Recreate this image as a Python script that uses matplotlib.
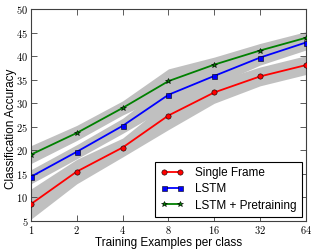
import matplotlib

matplotlib.use("Agg")
import matplotlib.pyplot as plt
import numpy as np
from matplotlib.ticker import FixedLocator, FuncFormatter

plt.rcParams["mathtext.fontset"] = "cm"
plt.rcParams["font.family"] = ["Liberation Sans", "DejaVu Sans"]

examples = [1, 2, 4, 8, 16, 32, 64]
x_ticks = [1, 2, 4, 8, 16, 32, 64]
y_ticks = [5, 10, 15, 20, 25, 30, 35, 40, 45, 50]

single_frame = [8.6, 15.5, 20.6, 27.4, 32.3, 35.7, 38.1]
single_std = [3.2, 2.6, 2.0, 3.0, 2.3, 2.0, 2.0]
lstm = [14.4, 19.7, 25.2, 31.8, 35.8, 39.7, 42.9]
lstm_std = [1.5, 1.5, 1.6, 2.5, 2.0, 1.6, 1.6]
lstm_pre = [19.1, 23.7, 29.0, 34.7, 38.2, 41.2, 43.9]
lstm_pre_std = [1.9, 1.6, 1.5, 2.6, 1.6, 1.5, 1.3]

series = [
    ("Single Frame", single_frame, single_std, "r", "o", 3.8),
    ("LSTM", lstm, lstm_std, "b", "s", 3.6),
    ("LSTM + Pretraining", lstm_pre, lstm_pre_std, "g", "*", 4.2),
]

fig = plt.figure(figsize=(3.16, 2.52), dpi=100)
ax = fig.add_axes([0.098, 0.123, 0.870, 0.841])
ax.set_xscale("log", base=2)

for label, mean, std, color, marker, ms in series:
    m = np.array(mean)
    s = np.array(std)
    ax.fill_between(examples, m - s, m + s, color="#c0c0c0", linewidth=0, zorder=1)

for label, mean, std, color, marker, ms in series:
    ax.plot(examples, mean, color=color, marker=marker, markersize=ms,
            markeredgecolor="k", markeredgewidth=0.4, linewidth=1.3,
            label=label, zorder=3)

ax.set_xlim(1, 64)
ax.set_ylim(5, 50)
ax.xaxis.set_major_locator(FixedLocator(x_ticks))
ax.xaxis.set_minor_locator(FixedLocator([]))
ax.yaxis.set_major_locator(FixedLocator(y_ticks))
ax.xaxis.set_major_formatter(FuncFormatter(lambda v, p: "$%d$" % v))
ax.yaxis.set_major_formatter(FuncFormatter(lambda v, p: "$%d$" % v))
ax.tick_params(direction="in", top=True, right=True, labelsize=7.5,
               length=4, width=0.6, pad=2, colors="#404040", labelcolor="k")
for sp in ax.spines.values():
    sp.set_color("#404040")
    sp.set_linewidth(0.8)

ax.set_xlabel("Training Examples per class", fontsize=8.5)
ax.xaxis.set_label_coords(0.5, -0.075)
ax.set_ylabel("Classification Accuracy", fontsize=8.5)
ax.yaxis.set_label_coords(-0.052, 0.434)

leg = ax.legend(loc="lower right", fontsize=8.5, numpoints=2, fancybox=False,
                framealpha=1, edgecolor="k", borderpad=0.45, handlelength=1.9,
                labelspacing=0.35, handletextpad=1.0, borderaxespad=0.35)
leg.get_frame().set_linewidth(0.8)

fig.savefig("out.png", dpi=100)
